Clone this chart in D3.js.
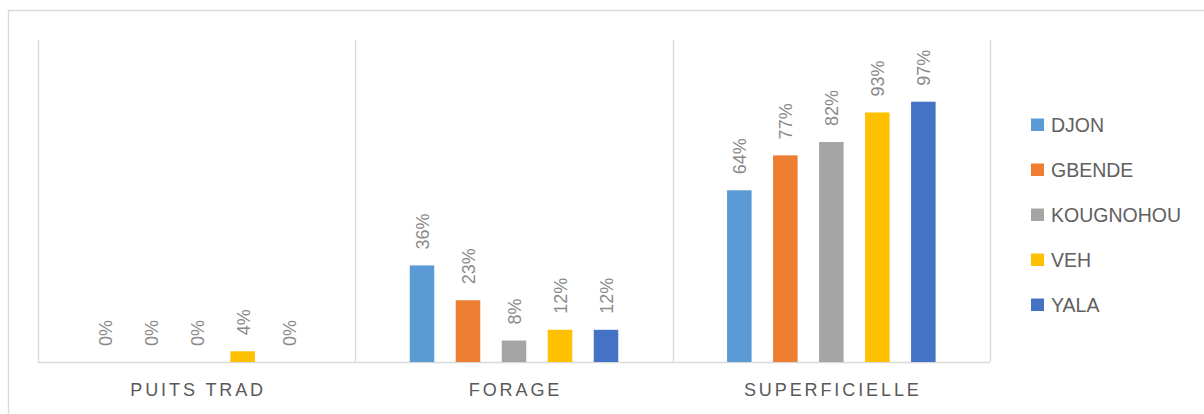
<!DOCTYPE html>
<html>
<head>
<meta charset="utf-8">
<script src="https://cdn.jsdelivr.net/npm/d3@7"></script>
<style>
  html, body { margin: 0; padding: 0; background: #fff; }
  svg { display: block; font-family: "Liberation Sans", Arial, sans-serif; }
</style>
</head>
<body>
<svg id="chart" width="1204" height="414"></svg>
<script>
// Water source categories and the share of households per village
const categories = ["PUITS TRAD", "FORAGE", "SUPERFICIELLE"];
const villages = ["DJON", "GBENDE", "KOUGNOHOU", "VEH", "YALA"];
const djon      = [0.00, 0.36, 0.64];
const gbende    = [0.00, 0.23, 0.77];
const kougnohou = [0.00, 0.08, 0.82];
const veh       = [0.04, 0.12, 0.93];
const yala      = [0.00, 0.12, 0.97];
const colors = ["#5B9BD5", "#ED7D31", "#A5A5A5", "#FFC000", "#4472C4"];

const seriesValues = [djon, gbende, kougnohou, veh, yala];
const series = villages.map((name, i) => ({ name, values: seriesValues[i], color: colors[i] }));

const svg = d3.select("#chart");
const plot = { left: 38, right: 990, top: 40, bottom: 362 };

// outer chart frame
svg.append("path")
  .attr("d", `M8.5,414 V10.5 H1204`)
  .attr("fill", "none")
  .attr("stroke", "#d9d9d9")
  .attr("stroke-width", 1.3);

const x0 = d3.scaleBand()
  .domain(categories)
  .range([plot.left, plot.right])
  .paddingInner(0)
  .paddingOuter(0);

const groupWidth = 230;
const x1 = d3.scaleBand()
  .domain(villages)
  .range([0, groupWidth])
  .paddingInner(0.467)
  .paddingOuter(0.2335);

const y = d3.scaleLinear()
  .domain([0, 1.2])
  .range([plot.bottom, plot.top]);

// category separators
const seps = categories.map(c => x0(c)).concat([x0.range()[1]]);
svg.append("g")
  .selectAll("line")
  .data(seps)
  .join("line")
  .attr("x1", d => Math.round(d) + 0.5)
  .attr("x2", d => Math.round(d) + 0.5)
  .attr("y1", plot.top)
  .attr("y2", plot.bottom)
  .attr("stroke", "#d9d9d9")
  .attr("stroke-width", 1.3);

// baseline
svg.append("line")
  .attr("x1", plot.left)
  .attr("x2", plot.right)
  .attr("y1", plot.bottom + 0.5)
  .attr("y2", plot.bottom + 0.5)
  .attr("stroke", "#d9d9d9")
  .attr("stroke-width", 1.3);

const groupOffset = (x0.bandwidth() - groupWidth) / 2;

const groups = svg.append("g")
  .selectAll("g")
  .data(categories.map((c, ci) => ({ c, ci })))
  .join("g")
  .attr("transform", d => `translate(${x0(d.c) + groupOffset},0)`);

// bars
groups.selectAll("rect")
  .data(d => series.map(s => ({ name: s.name, color: s.color, v: s.values[d.ci] })))
  .join("rect")
  .attr("x", d => x1(d.name))
  .attr("width", x1.bandwidth())
  .attr("y", d => y(d.v))
  .attr("height", d => y(0) - y(d.v))
  .attr("fill", d => d.color);

// rotated value labels
groups.selectAll("text")
  .data(d => series.map(s => ({ name: s.name, v: s.values[d.ci] })))
  .join("text")
  .attr("transform", d => `translate(${x1(d.name) + x1.bandwidth() / 2 + 1},${y(d.v) - 16}) rotate(-90)`)
  .attr("text-anchor", "start")
  .attr("dominant-baseline", "central")
  .attr("font-size", 18)
  .attr("fill", "#8a8a8a")
  .text(d => d3.format(".0%")(d.v));

// category axis labels
svg.append("g")
  .selectAll("text")
  .data(categories)
  .join("text")
  .attr("x", d => x0(d) + x0.bandwidth() / 2 + 1.5)
  .attr("y", 396)
  .attr("text-anchor", "middle")
  .attr("font-size", 18)
  .attr("letter-spacing", 2.9)
  .attr("fill", "#595959")
  .text(d => d);

// legend
const legend = svg.append("g")
  .selectAll("g")
  .data(series)
  .join("g")
  .attr("transform", (d, i) => `translate(1031,${125 + i * 45})`);

legend.append("rect")
  .attr("x", 0)
  .attr("y", -6.5)
  .attr("width", 13)
  .attr("height", 12.5)
  .attr("fill", d => d.color);

legend.append("text")
  .attr("x", 20)
  .attr("y", 0)
  .attr("dominant-baseline", "central")
  .attr("font-size", 19.5)
  .attr("fill", "#606060")
  .text(d => d.name);
</script>
</body>
</html>
